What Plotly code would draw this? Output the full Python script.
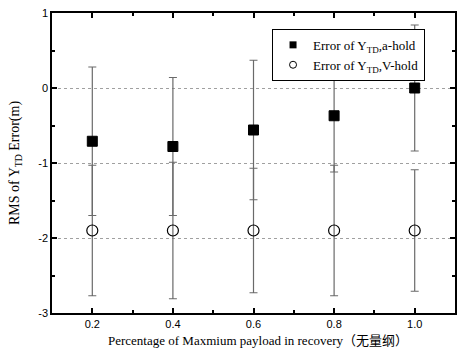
import plotly.graph_objects as go

# Payload fraction (x) and RMS of Y_TD error for the two hold modes
payload = [0.2, 0.4, 0.6, 0.8, 1.0]
a_hold = [-0.71, -0.78, -0.56, -0.37, 0.0]
a_hold_err = [0.99, 0.92, 0.93, 0.75, 0.84]
v_hold = [-1.90, -1.90, -1.90, -1.90, -1.90]
v_hold_err = [0.87, 0.91, 0.83, 0.87, 0.81]

x_ticks = [0.2, 0.4, 0.6, 0.8, 1.0]
x_tick_text = ["0.2", "0.4", "0.6", "0.8", "1.0"]
y_ticks = [1, 0, -1, -2, -3]
y_tick_text = ["1", "0", "-1", "-2", "-3"]

name_a = "Error of Y<sub>TD</sub>,a-hold"
name_v = "Error of Y<sub>TD</sub>,V-hold"
x_title = "Percentage of Maxmium payload in recovery（无量纲）"
y_title = "RMS of Y<sub>TD</sub> Error(m)"

serif = "Liberation Serif, Times New Roman, Noto Sans CJK SC, serif"
sans = "Liberation Sans, Arial, sans-serif"
err_color = "#6a6a6a"

fig = go.Figure()
fig.add_trace(go.Scatter(
    x=payload, y=a_hold, mode="markers", name=name_a, showlegend=False,
    marker=dict(symbol="square", size=10, color="black",
                line=dict(color="black", width=1)),
    error_y=dict(type="data", array=a_hold_err, visible=True,
                 color=err_color, thickness=1.2, width=4),
))
fig.add_trace(go.Scatter(
    x=payload, y=v_hold, mode="markers", name=name_v, showlegend=False,
    marker=dict(symbol="circle-open", size=11, color="black",
                line=dict(color="black", width=1.2)),
    error_y=dict(type="data", array=v_hold_err, visible=True,
                 color=err_color, thickness=1.2, width=4),
))
# Legend entries with the smaller key symbols
fig.add_trace(go.Scatter(
    x=[None], y=[None], mode="markers", name=name_a,
    marker=dict(symbol="square", size=7, color="black"),
))
fig.add_trace(go.Scatter(
    x=[None], y=[None], mode="markers", name=name_v,
    marker=dict(symbol="circle-open", size=7, color="black",
                line=dict(color="black", width=1)),
))

axis_common = dict(
    showline=True, linecolor="black", linewidth=1.5, mirror="ticks",
    ticks="inside", ticklen=5, tickwidth=1.5, tickcolor="black",
    zeroline=False, automargin=False,
    tickfont=dict(family=sans, size=11, color="black"),
)

fig.update_xaxes(
    range=[0.1, 1.1], tickvals=x_ticks, ticktext=x_tick_text,
    showgrid=False,
    minor=dict(ticks="inside", dtick=0.1, ticklen=3, tickcolor="black", showgrid=False),
    **axis_common,
)
fig.update_yaxes(
    range=[-3, 1], tickvals=y_ticks, ticktext=y_tick_text,
    showgrid=True, gridcolor="#a0a0a0", gridwidth=1, griddash="dot",
    minor=dict(ticks="inside", dtick=0.5, ticklen=3, tickcolor="black", showgrid=False),
    title=dict(text=y_title, font=dict(family=serif, size=14, color="black")),
    **axis_common,
)

fig.add_annotation(
    text=x_title, xref="paper", yref="paper", x=0.51, y=-0.09,
    xanchor="center", yanchor="middle", showarrow=False,
    font=dict(family=serif, size=13, color="black"),
)

fig.update_layout(
    width=468, height=355,
    margin=dict(l=52, r=13, t=13, b=42),
    paper_bgcolor="white", plot_bgcolor="white",
    showlegend=True,
    legend=dict(
        x=0.546, y=0.947, xanchor="left", yanchor="top",
        bgcolor="white", bordercolor="black", borderwidth=1,
        font=dict(family=serif, size=13, color="black"),
        itemwidth=30, tracegroupgap=0,
    ),
)

fig.write_html("out.html")
